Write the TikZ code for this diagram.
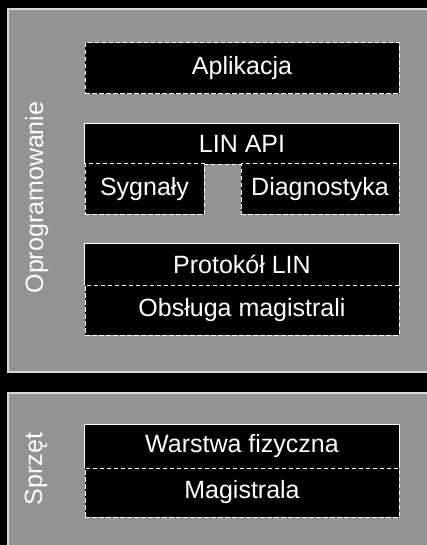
\documentclass[tikz,border=0pt]{standalone}
\usepackage{fontspec}
\setmainfont{Liberation Sans}
\definecolor{panelgray}{RGB}{147,147,147}
\definecolor{panelline}{RGB}{215,215,215}
\begin{document}
\begin{tikzpicture}[x=1pt,y=-1pt,
  panel/.style={fill=panelgray,draw=panelline,line width=1.3pt},
  boxbase/.style={rectangle,fill=black,inner sep=0pt,text=white,font=\fontsize{25}{29}\selectfont},
  dashbox/.style={boxbase,draw=white,line width=1pt,dash pattern=on 4.5pt off 2.5pt},
  solidedge/.style={draw=white,line width=1pt},
  dashedge/.style={draw=white,line width=1pt,dash pattern=on 4.5pt off 2.5pt},
  sidelabel/.style={rotate=90,anchor=base,text=white,inner sep=0pt,font=\fontsize{25}{29}\selectfont}]
\useasboundingbox (0,0) rectangle (427,545);
\fill[black] (0,0) rectangle (427,545);
\begin{scope}
\clip (0,0) rectangle (427,545);
\draw[panel] (8,9) rectangle (440,372);
\draw[panel] (8,393) rectangle (440,560);
\end{scope}
% Software
\node[sidelabel] (soft) at (43,197.5) {Oprogramowanie};
\node[dashbox,minimum width=314pt,minimum height=51pt] (app) at (242,68.5) {Aplikacja};
\node[boxbase,minimum width=314pt,minimum height=40pt] (api) at (242,144) {LIN API};
\draw[solidedge] (api.south west) -- (api.north west) -- (api.north east) -- (api.south east);
\draw[dashedge] (api.south west) -- (api.south east);
\node[dashbox,minimum width=119pt,minimum height=50pt] (syg) at (144.5,189) {Sygnały};
\node[dashbox,minimum width=158pt,minimum height=50pt] (diag) at (320,189) {Diagnostyka};
\node[boxbase,minimum width=314pt,minimum height=41pt] (prot) at (242,264.5) {Protokół LIN};
\draw[solidedge] (prot.south west) -- (prot.north west) -- (prot.north east) -- (prot.south east);
\node[dashbox,minimum width=314pt,minimum height=50pt] (obs) at (242,310) {Obsługa magistrali};
% Hardware
\node[sidelabel] (hw) at (42,469) {Sprzęt};
\node[boxbase,minimum width=314pt,minimum height=43pt] (phy) at (242,446.5) {Warstwa fizyczna};
\draw[solidedge] (phy.south west) -- (phy.north west) -- (phy.north east) -- (phy.south east);
\node[dashbox,minimum width=314pt,minimum height=49pt] (bus) at (242,492.5) {Magistrala};
\end{tikzpicture}
\end{document}
